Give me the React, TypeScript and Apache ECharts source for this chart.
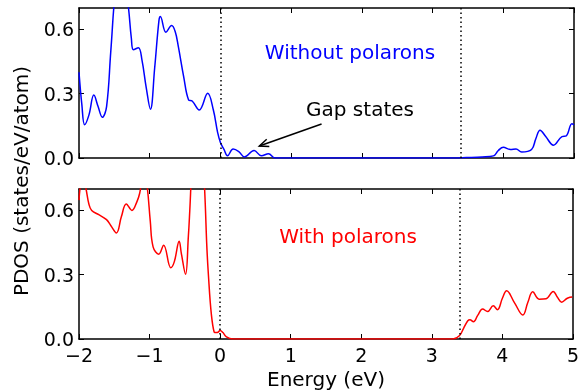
import React, { useEffect, useRef } from "react";
import * as echarts from "echarts";

// Energies (eV) and PDOS values (states/eV/atom)
const topEnergy = [
  -2.0, -1.96, -1.92, -1.86, -1.79, -1.73, -1.67, -1.61, -1.55, -1.48, -1.42, -1.35, -1.3, -1.26, -1.23,
  -1.16, -1.11, -1.05, -0.99, -0.93, -0.87, -0.85, -0.77, -0.69, -0.64, -0.595, -0.52, -0.45, -0.4, -0.3,
  -0.18, -0.1, -0.04, 0.0, 0.05, 0.1, 0.18, 0.26, 0.34, 0.475, 0.58, 0.68, 0.77, 1.0, 3.3, 3.48, 3.7,
  3.86, 3.93, 4.0, 4.1, 4.18, 4.26, 4.4, 4.46, 4.52, 4.6, 4.71, 4.83, 4.89, 4.97, 5.0,
];
const topPdos = [
  0.4, 0.25, 0.155, 0.2, 0.294, 0.24, 0.19, 0.24, 0.5, 0.8, 0.88, 0.82, 0.7, 0.56, 0.505,
  0.515, 0.458, 0.33, 0.228, 0.42, 0.64, 0.66, 0.587, 0.618, 0.59, 0.52, 0.38, 0.271, 0.266, 0.224,
  0.302, 0.224, 0.12, 0.072, 0.04, 0.01, 0.042, 0.03, 0.005, 0.035, 0.01, 0.02, 0.0, 0.0, 0.0, 0.002, 0.005,
  0.01, 0.035, 0.05, 0.04, 0.042, 0.028, 0.04, 0.09, 0.13, 0.1, 0.06, 0.1, 0.103, 0.16, 0.155,
];

const bottomEnergy = [
  -2.0, -1.97, -1.94, -1.9, -1.86, -1.82, -1.72, -1.61, -1.55, -1.47, -1.4, -1.33, -1.25, -1.18, -1.14,
  -1.1, -1.07, -1.03, -0.99, -0.95, -0.87, -0.8, -0.7, -0.65, -0.58, -0.55, -0.49, -0.45, -0.43, -0.4,
  -0.35, -0.3, -0.25, -0.22, -0.17, -0.085, -0.04, 0.0, 0.04, 0.09, 0.18, 1.0, 3.3, 3.39, 3.45, 3.51,
  3.54, 3.59, 3.65, 3.72, 3.79, 3.87, 3.93, 4.0, 4.06, 4.17, 4.29, 4.36, 4.43, 4.52, 4.62, 4.72, 4.78,
  4.84, 4.92, 4.99, 5.0,
];
const bottomPdos = [
  0.648, 0.74, 0.76, 0.7, 0.63, 0.6, 0.58, 0.557, 0.53, 0.495, 0.57, 0.63, 0.6, 0.64, 0.68,
  0.76, 0.78, 0.7, 0.55, 0.43, 0.396, 0.438, 0.333, 0.36, 0.456, 0.4, 0.302, 0.48, 0.6, 0.8,
  1.0, 1.0, 0.85, 0.7, 0.32, 0.033, 0.03, 0.04, 0.03, 0.01, 0.0, 0.0, 0.0, 0.015, 0.05, 0.085,
  0.09, 0.08, 0.11, 0.14, 0.128, 0.155, 0.137, 0.19, 0.225, 0.17, 0.112, 0.17, 0.22, 0.186, 0.188, 0.222, 0.195,
  0.172, 0.19, 0.196, 0.196,
];

const fermiLevels = [0.0, 3.4];
const panelLabels = ["Without polarons", "With polarons"];
const arrowTail = [1.43, 0.159];
const arrowHead = [0.55, 0.056];

const FONT = "DejaVu Sans";
const FS = 19;

export default function App() {
  const ref = useRef<HTMLDivElement>(null);

  useEffect(() => {
    if (!ref.current) return;
    const chart = echarts.init(ref.current, undefined, { renderer: "svg" });

    const xBase = (gridIndex: number, position: "top" | "bottom", labels: boolean) => ({
      type: "value",
      gridIndex,
      position,
      min: -2,
      max: 5,
      interval: 1,
      axisLine: { show: true, onZero: false, lineStyle: { color: "#000", width: 1.5 } },
      axisTick: { show: true, inside: true, length: 5, lineStyle: { color: "#000", width: 1 } },
      axisLabel: {
        show: labels,
        margin: 6,
        fontSize: FS,
        fontFamily: FONT,
        color: "#000",
        formatter: (v: number) => (v < 0 ? "\u2212" + Math.abs(v) : String(v)),
      },
      splitLine: { show: false },
    });
    const yBase = (gridIndex: number, position: "left" | "right", labels: boolean) => ({
      type: "value",
      gridIndex,
      position,
      min: 0,
      max: 0.7,
      interval: 0.3,
      axisLine: { show: true, onZero: false, lineStyle: { color: "#000", width: 1.5 } },
      axisTick: { show: true, inside: true, length: 5, lineStyle: { color: "#000", width: 1 } },
      axisLabel: {
        show: labels,
        margin: 5,
        fontSize: FS,
        fontFamily: FONT,
        color: "#000",
        showMaxLabel: false,
        formatter: (v: number) => v.toFixed(1),
      },
      splitLine: { show: false },
    });

    const vLines = {
      silent: true,
      symbol: ["none", "none"],
      label: { show: false },
      lineStyle: { color: "#000", type: [1.5, 3], width: 1.5 },
      data: fermiLevels.map((x) => ({ xAxis: x })),
    };

    chart.setOption({
      animation: false,
      grid: [
        { left: 79, right: 8, top: 8, height: 150 },
        { left: 79, right: 8, top: 189, height: 150 },
      ],
      xAxis: [
        xBase(0, "bottom", false),
        xBase(0, "top", false),
        {
          ...xBase(1, "bottom", true),
          name: "Energy (eV)",
          nameLocation: "middle",
          nameGap: 30,
          nameTextStyle: { fontSize: 20, fontFamily: FONT, color: "#000" },
        },
        xBase(1, "top", false),
      ],
      yAxis: [
        yBase(0, "left", true),
        yBase(0, "right", false),
        yBase(1, "left", true),
        yBase(1, "right", false),
      ],
      series: [
        {
          type: "line",
          xAxisIndex: 0,
          yAxisIndex: 0,
          data: topEnergy.map((e, i) => [e, topPdos[i]]),
          smooth: 0.4,
          showSymbol: false,
          clip: true,
          lineStyle: { color: "#0000ff", width: 1.5 },
          markLine: vLines,
        },
        {
          type: "line",
          xAxisIndex: 2,
          yAxisIndex: 2,
          data: bottomEnergy.map((e, i) => [e, bottomPdos[i]]),
          smooth: 0.4,
          showSymbol: false,
          clip: true,
          lineStyle: { color: "#ff0000", width: 1.5 },
          markLine: vLines,
        },
      ],
    });

    const tail = chart.convertToPixel({ seriesIndex: 0 }, arrowTail) as number[];
    const head = chart.convertToPixel({ seriesIndex: 0 }, arrowHead) as number[];
    const ang = Math.atan2(tail[1] - head[1], tail[0] - head[0]);
    const hl = 10;
    const hw = 0.4;
    const h1 = [head[0] + hl * Math.cos(ang + hw), head[1] + hl * Math.sin(ang + hw)];
    const h2 = [head[0] + hl * Math.cos(ang - hw), head[1] + hl * Math.sin(ang - hw)];

    chart.setOption({
      graphic: [
        {
          type: "text",
          x: 350,
          y: 52,
          style: { text: panelLabels[0], fill: "#0000ff", font: `20px "${FONT}"`, align: "center", verticalAlign: "middle" },
        },
        {
          type: "text",
          x: 348,
          y: 236,
          style: { text: panelLabels[1], fill: "#ff0000", font: `20px "${FONT}"`, align: "center", verticalAlign: "middle" },
        },
        {
          type: "text",
          x: 360,
          y: 109,
          style: { text: "Gap states", fill: "#000", font: `20px "${FONT}"`, align: "center", verticalAlign: "middle" },
        },
        {
          type: "text",
          x: 21,
          y: 181,
          rotation: Math.PI / 2,
          style: { text: "PDOS (states/eV/atom)", fill: "#000", font: `20px "${FONT}"`, align: "center", verticalAlign: "middle" },
        },
        {
          type: "line",
          shape: { x1: tail[0], y1: tail[1], x2: head[0], y2: head[1] },
          style: { stroke: "#000", lineWidth: 1.5 },
        },
        {
          type: "polyline",
          shape: { points: [h1, head, h2] },
          style: { stroke: "#000", lineWidth: 1.5, fill: null },
        },
      ],
    });

    return () => chart.dispose();
  }, []);

  return <div ref={ref} style={{ position: "fixed", left: 0, top: 0, width: 582, height: 391 }} />;
}
